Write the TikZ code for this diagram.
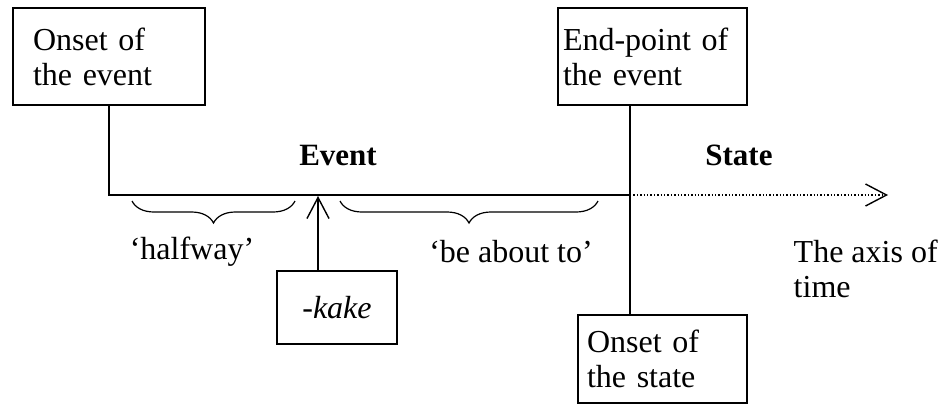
\documentclass[tikz,border=0pt]{standalone}
\usepackage{fontspec}
\setmainfont{Liberation Serif}
\usetikzlibrary{arrows.meta,decorations.pathreplacing}
\begin{document}
\begin{tikzpicture}[x=1pt,y=-1pt,
  font=\fontsize{32}{35}\selectfont,
  line width=1.4pt,
  labelbox/.style={draw, rectangle, align=left, inner ysep=4pt},
  barb/.style={-{Straight Barb[length=21pt,width=22pt,line width=1.4pt]}},
  curly/.style={decorate, decoration={brace, mirror, amplitude=22pt}, line width=1.2pt},
  plain/.style={inner sep=0pt}]
\useasboundingbox (0,0) rectangle (944,413);

% boxes
\node[labelbox, minimum width=192pt, minimum height=97pt, text width=152pt, inner xsep=20pt]
  (onsetE) at (109,56.5) {Onset of\\the event};
\node[labelbox, minimum width=189pt, minimum height=97pt, text width=179pt, inner xsep=5pt]
  (endE) at (652.5,56.5) {End-point of\\the event};
\node[labelbox, minimum width=169pt, minimum height=88pt, text width=151pt, inner xsep=9pt]
  (onsetS) at (662.5,359) {Onset of\\the state};
\node[labelbox, minimum width=120pt, minimum height=73pt, inner xsep=0pt]
  (kake) at (337,307.5) {\itshape -kake};

% time axis points
\coordinate (t0) at (109,195);
\coordinate (t1) at (630,195);
\coordinate (tend) at (888,195);
\coordinate (hit) at (318,196);

% axis
\draw (onsetE.south -| t0) -- (t0) -- (t1);
\draw (endE.south -| t1) -- (onsetS.north -| t1);
\draw[dotted, barb] (t1) -- (tend);
\draw[barb] (kake.north -| hit) -- (hit);

% braces
\coordinate (b1) at (132,201);
\coordinate (b2) at (295,201);
\coordinate (b3) at (340,201);
\coordinate (b4) at (598,201);
\draw[curly] (b1) -- (b2);
\draw[curly] (b3) -- (b4);

% labels
\node[plain, font=\fontsize{31}{35}\selectfont\bfseries] (ev) at (338,155) {Event};
\node[plain, font=\fontsize{31}{35}\selectfont\bfseries] (st) at (739,155) {State};
\node[plain] (hw) at (192,252) {‘halfway’};
\node[plain] (ba) at (511,252) {‘be about to’};
\node[plain, align=left, anchor=north west] (axis) at (793,239) {The axis of\\time};
\end{tikzpicture}
\end{document}
